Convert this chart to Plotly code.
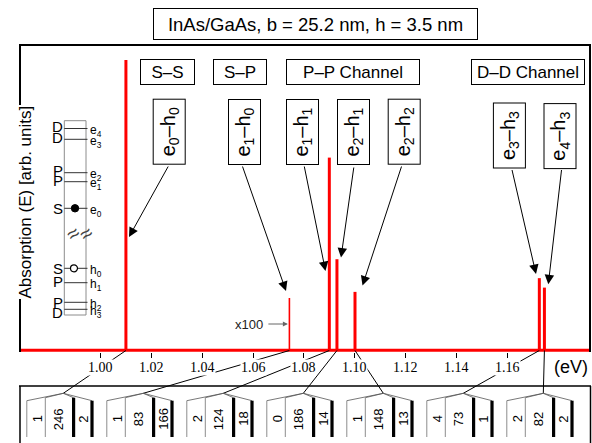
import plotly.graph_objects as go

# ---------------- data ----------------
title_text = "InAs/GaAs, b = 25.2 nm, h = 3.5 nm"
transitions = ["e<sub>0</sub>–h<sub>0</sub>", "e<sub>1</sub>–h<sub>0</sub>", "e<sub>1</sub>–h<sub>1</sub>",
               "e<sub>2</sub>–h<sub>1</sub>", "e<sub>2</sub>–h<sub>2</sub>", "e<sub>3</sub>–h<sub>3</sub>",
               "e<sub>4</sub>–h<sub>3</sub>"]
energies = [1.0100, 1.0743, 1.0900, 1.0930, 1.1001, 1.1726, 1.1746]   # eV
heights = [0.951, 0.171, 0.631, 0.298, 0.191, 0.236, 0.205]          # arb. units
scaled_x100 = [False, True, False, False, False, False, False]
group_counts = [[1, 246, 2], [1, 83, 166], [2, 124, 18], [0, 186, 14],
                [1, 148, 13], [4, 73, 1], [2, 82, 2]]
categories = ["S–S", "S–P", "P–P Channel", "D–D Channel"]
tick_vals = [1.00, 1.02, 1.04, 1.06, 1.08, 1.10, 1.12, 1.14, 1.16]
tick_labels = ["1.00", "1.02", "1.04", "1.06", "1.08", "1.10", "1.12", "1.14", "1.16"]
level_letters = ["D", "D", "P", "P", "S", "S", "P", "P", "D"]
level_names = ["e<sub>4</sub>", "e<sub>3</sub>", "e<sub>2</sub>", "e<sub>1</sub>", "e<sub>0</sub>",
               "h<sub>0</sub>", "h<sub>1</sub>", "h<sub>2</sub>", "h<sub>3</sub>"]
x_unit = "(eV)"
y_title = "Absorption (E) [arb. units]"
scale_note = "x100"

# ---------------- layout helpers (pixels) ----------------
W, H = 592, 443
L, R, T, B = 20, 590, 45, 352
XMIN, XMAX = 0.96834, 1.19253
YMIN, YMAX = -0.006, 1.0
SANS = "Liberation Sans, Arial, sans-serif"
SERIF = "Liberation Serif, Times New Roman, serif"


def px(x):
    return (x - L) / (R - L)


def py(y):
    return (B - y) / (B - T)


def ex(x):
    return XMIN + (x - L) / (R - L) * (XMAX - XMIN)


def xe(e):
    return L + (e - XMIN) / (XMAX - XMIN) * (R - L)


fig = go.Figure()

# baseline
fig.add_trace(go.Scatter(x=[XMIN, XMAX], y=[0, 0], mode="lines",
                         line=dict(color="#ff0000", width=3), hoverinfo="skip", showlegend=False))
# peaks
for flag, wdt in ((False, 3), (True, 1.6)):
    xs, ys = [], []
    for e, h, s in zip(energies, heights, scaled_x100):
        if s == flag:
            xs += [e, e, None]
            ys += [0, h, None]
    fig.add_trace(go.Scatter(x=xs, y=ys, mode="lines", line=dict(color="#ff0000", width=wdt),
                             hoverinfo="skip", showlegend=False))

shapes = []
ann = []


def pline(x0, y0, x1, y1, color="black", width=1):
    shapes.append(dict(type="line", xref="paper", yref="paper", x0=px(x0), y0=py(y0),
                       x1=px(x1), y1=py(y1), line=dict(color=color, width=width)))


def text(x, y, t, size, family=SANS, color="black", xanchor="center", yanchor="middle", **kw):
    d = dict(xref="paper", yref="paper", x=px(x), y=py(y), text=t, showarrow=False,
             xanchor=xanchor, yanchor=yanchor, font=dict(family=family, size=size, color=color))
    d.update(kw)
    ann.append(d)


# frame
pline(19, 45, 591, 45, width=2)
pline(20, 44, 20, 352, width=2)
pline(590, 44, 590, 352, width=2)
# bottom panel frame
pline(19, 386, 591, 386, width=1.5)
pline(20, 386, 20, 445, width=1.5)
pline(590.5, 386, 590.5, 445, width=1.5)

# title box
text(315.8, 23.8, title_text, 18.5, width=323, height=30, bordercolor="black", borderwidth=1,
     borderpad=0, bgcolor="white")

# category boxes
cat_boxes = [(167.9, 53), (240.0, 52), (352.5, 132), (528.0, 112)]
for name, (cx, w) in zip(categories, cat_boxes):
    text(cx, 72.2, name, 17, width=w, height=24, bordercolor="black", borderwidth=1,
         borderpad=0, bgcolor="white")

# transition label boxes and arrows
label_boxes = [(168.7, 132), (244.0, 132), (302.0, 132), (353.0, 132), (403.7, 132), (509.7, 135.8), (560.3, 135.8)]
arrow_tail = [(169, 165), (242, 165), (304, 165), (354, 166), (402, 165), (511.7, 168.5), (561.7, 168.5)]
arrow_tip = [(129, 237), (286, 291), (325.5, 271), (341, 257.5), (362.5, 285.5), (536, 274), (548.3, 284.3)]
for txt, (cx, cy), (tx, ty), (hx, hy) in zip(transitions, label_boxes, arrow_tail, arrow_tip):
    ann.append(dict(xref="paper", yref="paper", x=px(hx), y=py(hy), text="", showarrow=True,
                    ax=tx - hx, ay=ty - hy, arrowhead=2, arrowsize=1.9, arrowwidth=1,
                    arrowcolor="black", standoff=0, startstandoff=0))
    text(cx, cy, txt, 20, textangle=-90, width=64, height=31, bordercolor="black", borderwidth=1,
         borderpad=0, bgcolor="white")

# x100 note
i100 = scaled_x100.index(True)
text(265, 324, scale_note, 13, color="#222", xanchor="right")
ann.append(dict(xref="x", yref="paper", x=ex(xe(energies[i100]) - 1.5), y=py(324), text="", showarrow=True,
                ax=-21, ay=0, arrowhead=2, arrowsize=1, arrowwidth=1, arrowcolor="#666", standoff=0))

# y title (over the left frame line)
text(24.5, 202, y_title, 17, textangle=-90, bgcolor="white", borderpad=0)

# leader lines from bottom panel to peaks
fan_y = 393.3
for i, e in enumerate(energies):
    fx = 63.3 + 80 * i
    shapes.append(dict(type="line", xref="x", yref="paper", x0=ex(fx), y0=py(fan_y), x1=e, y1=py(350.5),
                       line=dict(color="black", width=1)))

# tick labels (masking the leader lines)
for v, t in zip(tick_vals, tick_labels):
    ann.append(dict(xref="x", yref="paper", x=v, y=py(367.3), text=t, showarrow=False,
                    xanchor="center", yanchor="middle",
                    font=dict(family=SERIF, size=14, color="black"), bgcolor="white", borderpad=0))
text(571, 366.5, x_unit, 18)

# bottom panel: fans, columns, counts
col_off = [-36.5, -18.0, 10.3, 28.7]
col_top = [400.7, 397.7, 397.7, 400.7]
col_style = [("#8c8c8c", 1), ("#8c8c8c", 1), ("black", 3.2), ("black", 3.2)]
lab_off = [-26, -5, 19.5]
for i, counts in enumerate(group_counts):
    fx = 63.3 + 80 * i
    for off, top, (c, wd) in zip(col_off, col_top, col_style):
        pline(fx, fan_y, fx + off, top, color="#555", width=0.8)
        pline(fx + off, top, fx + off, 437, color=c, width=wd)
    for off, n in zip(lab_off, counts):
        text(fx + off, 419, str(n), 13, textangle=-90)

# level diagram
shapes.append(dict(type="rect", xref="paper", yref="paper", x0=px(64.3), x1=px(86), y0=py(120.7), y1=py(315),
                   line=dict(color="#8c8c8c", width=1)))
line_y = [128.5, 139.3, 172.7, 181.7, 208.3, 268.3, 282.7, 302.3, 309.3]
letter_y = [126, 137.7, 170, 180.3, 208.3, 268.3, 281.7, 302.3, 312.7]
for ly, lt, ty, nm in zip(line_y, level_letters, letter_y, level_names):
    pline(64.3, ly, 87.5, ly, color="#333", width=1)
    text(63.5, ty, lt, 15, xanchor="right", borderpad=0)
    text(88.5, ly + 2.2, nm, 12, xanchor="left", borderpad=0)
shapes.append(dict(type="circle", xref="paper", yref="paper", x0=px(71.3), x1=px(78.7), y0=py(204.6), y1=py(212),
                   fillcolor="black", line=dict(color="black", width=1)))
shapes.append(dict(type="circle", xref="paper", yref="paper", x0=px(70.5), x1=px(77.5), y0=py(264.8), y1=py(271.8),
                   fillcolor="white", line=dict(color="black", width=1.2)))
for sx in (72.5, 85.5):
    text(sx, 233, "≈", 21, color="#444", textangle=-35, borderpad=0)

fig.update_layout(
    width=W, height=H, margin=dict(l=L, r=W - R, t=T, b=H - B, autoexpand=False),
    paper_bgcolor="white", plot_bgcolor="white",
    xaxis=dict(range=[XMIN, XMAX], showgrid=False, zeroline=False, showline=False,
               tickvals=tick_vals, ticks="outside", ticklen=5, tickwidth=1, tickcolor="black",
               showticklabels=False),
    yaxis=dict(range=[YMIN, YMAX], showgrid=False, zeroline=False, showline=False,
               showticklabels=False, ticks=""),
    shapes=shapes, annotations=ann, showlegend=False,
)

fig.write_html("out.html", config={"displayModeBar": False},
               post_script="document.body.style.margin='0';document.body.style.padding='0';")
